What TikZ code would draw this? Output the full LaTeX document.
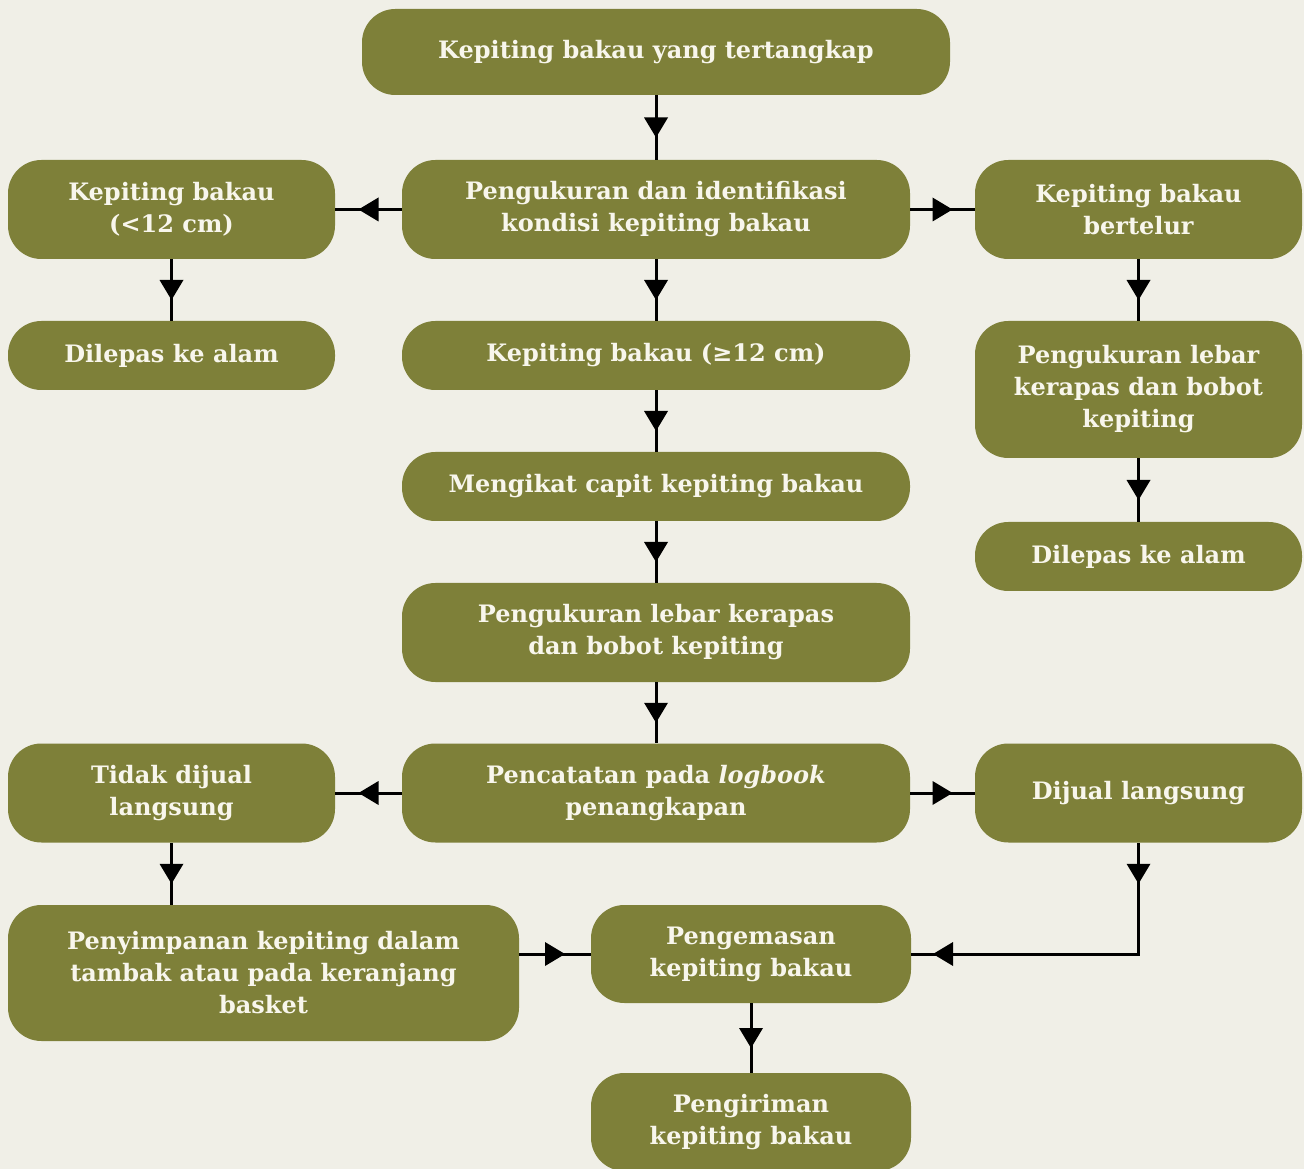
\documentclass[tikz,border=0pt]{standalone}
\usepackage{fontspec}
\setmainfont{DejaVu Serif}
\usetikzlibrary{positioning}
\usetikzlibrary{decorations.markings}

\definecolor{boxgreen}{RGB}{126,128,57}
\definecolor{boxtext}{RGB}{248,246,236}
\definecolor{paper}{RGB}{240,239,231}

\begin{document}
\begin{tikzpicture}[x=0.75pt,y=-0.75pt,
    box/.style={fill=boxgreen, text=boxtext, rounded corners=25pt, align=center,
      font=\fontsize{18}{24}\selectfont\bfseries, inner sep=0pt, minimum height=74.25pt},
    wide/.style={minimum width=381pt},
    side/.style={minimum width=245.25pt},
    short/.style={minimum height=51.75pt},
    flow/.style={line width=2.25pt, postaction={decorate},
      decoration={markings, mark=at position 0.5 with {\fill (-7.5pt,-9pt) -- (7.5pt,0pt) -- (-7.5pt,9pt) -- cycle;}}}]
  \fill[paper] (0,0) rectangle (1304,1169);
  \useasboundingbox (0,0) rectangle (1304,1169);

  \node[box, minimum width=441pt, minimum height=64.5pt] (catch) at (656,52) {Kepiting bakau yang tertangkap};
  \node[box, wide] (measure) at (656,209.5) {Pengukuran dan identifikasi\\kondisi kepiting bakau};
  \node[box, side] (small) at (171.5,209.5) {Kepiting bakau\\(<12 cm)};
  \node[box, side] (berried) at (1138.5,209.5) {Kepiting bakau\\bertelur};
  \node[box, side, short] (releaseL) at (171.5,355.5) {Dilepas ke alam};
  \node[box, wide, short] (large) at (656,355.5) {Kepiting bakau (≥12 cm)};
  \node[box, side, minimum height=102.75pt] (weighR) at (1138.5,389.5) {Pengukuran lebar\\kerapas dan bobot\\kepiting};
  \node[box, wide, short] (tie) at (656,486.5) {Mengikat capit kepiting bakau};
  \node[box, side, short] (releaseR) at (1138.5,556.5) {Dilepas ke alam};
  \node[box, wide] (weigh) at (656,632.5) {Pengukuran lebar kerapas\\dan bobot kepiting};
  \node[box, wide] (log) at (656,793) {Pencatatan pada \textit{logbook}\\penangkapan};
  \node[box, side] (keep) at (171.5,793) {Tidak dijual\\langsung};
  \node[box, side] (sell) at (1138.5,793) {Dijual langsung};
  \node[box, minimum width=383.25pt, minimum height=102pt] (store) at (263.5,973) {Penyimpanan kepiting dalam\\tambak atau pada keranjang\\basket};
  \node[box, minimum width=240pt, minimum height=73.5pt] (pack) at (751,954) {Pengemasan\\kepiting bakau};
  \node[box, minimum width=240pt, minimum height=73.5pt] (ship) at (751,1122) {Pengiriman\\kepiting bakau};

  \draw
  (catch) edge[flow] (measure)
  (measure) edge[flow] (small)
  (measure) edge[flow] (berried)
  (measure) edge[flow] (large)
  (small) edge[flow] (releaseL)
  (berried) edge[flow] (weighR)
  (weighR) edge[flow] (releaseR)
  (large) edge[flow] (tie)
  (tie) edge[flow] (weigh)
  (weigh) edge[flow] (log)
  (log) edge[flow] (keep)
  (log) edge[flow] (sell)
  (keep.south) edge[flow] (keep.south |- store.north)
  (store.east |- pack.west) edge[flow] (pack.west)
  (pack) edge[flow] (ship);

  % sold directly goes round to packing
  \draw[line width=2.25pt] (sell.south) |- (pack.east);
  \path[flow] (sell.south) -- (sell.south |- store.north);
  \path[flow] (sell.west |- pack.east) -- (pack.east);
\end{tikzpicture}
\end{document}
